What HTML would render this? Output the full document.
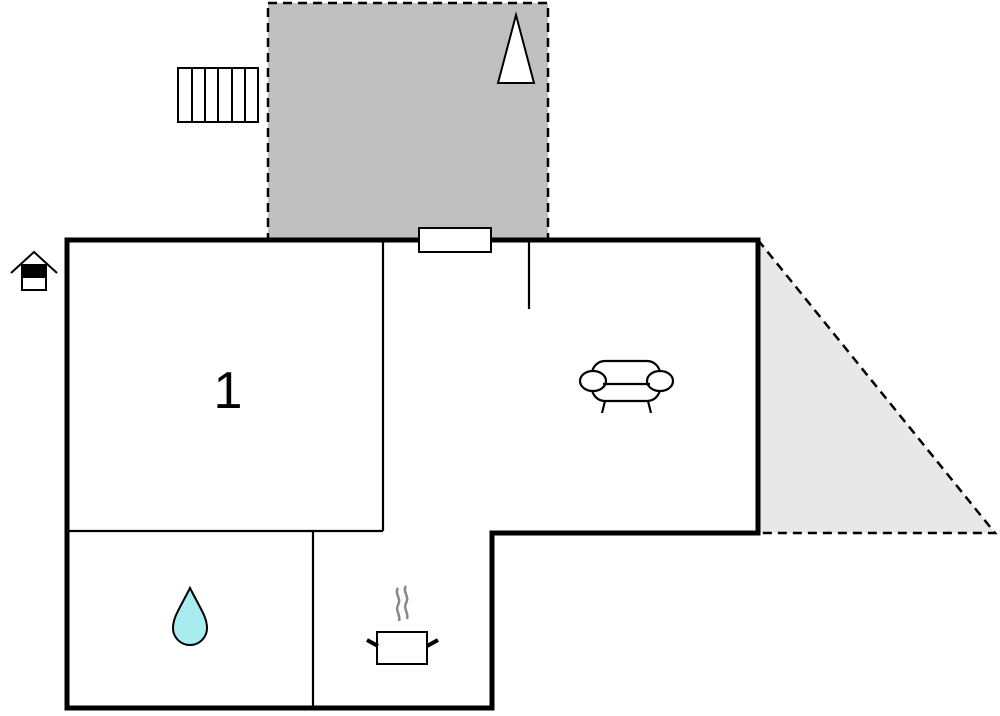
<!DOCTYPE html>
<html><head><style>body{margin:0;background:#fff}</style></head><body>
<svg width="1000" height="711" viewBox="0 0 1000 711" xmlns="http://www.w3.org/2000/svg">
<rect x="0" y="0" width="1000" height="711" fill="#fff"/>
<rect x="268" y="3" width="280" height="237" fill="#c0c0c0" stroke="#000" stroke-width="2.5" stroke-dasharray="9,6"/>
<polygon points="758,240 995,533 758,533" fill="#e8e8e8"/>
<polyline points="758,240 995,533 758,533" fill="none" stroke="#000" stroke-width="2.5" stroke-dasharray="9,6"/>
<rect x="178" y="68" width="80" height="54" fill="#fff" stroke="#000" stroke-width="2"/>
<g stroke="#000" stroke-width="2"><line x1="192" y1="68" x2="192" y2="122"/><line x1="205" y1="68" x2="205" y2="122"/><line x1="218" y1="68" x2="218" y2="122"/><line x1="232" y1="68" x2="232" y2="122"/><line x1="245" y1="68" x2="245" y2="122"/></g>
<polygon points="516,15 498,83 534,83" fill="#fff" stroke="#000" stroke-width="2"/>
<polygon points="67,240 758,240 758,533 492,533 492,708 67,708" fill="#fff" stroke="#000" stroke-width="5"/>
<g stroke="#000" stroke-width="2.2" fill="none">
<line x1="383" y1="240" x2="383" y2="531"/>
<line x1="67" y1="531" x2="383" y2="531"/>
<line x1="313" y1="531" x2="313" y2="708"/>
<line x1="529" y1="240" x2="529" y2="309"/>
</g>
<rect x="419" y="228" width="72" height="24" fill="#fff" stroke="#000" stroke-width="2"/>
<text x="228" y="408" font-family="Liberation Sans, sans-serif" font-size="52" text-anchor="middle">1</text>
<!-- house icon -->
<g stroke="#000" stroke-width="2" fill="none">
<polyline points="11,273 34,252 57,273"/>
<rect x="22" y="265" width="24" height="25" fill="#fff"/>
</g>
<rect x="22" y="265" width="24" height="13" fill="#000"/>
<!-- sofa -->
<g stroke="#000" stroke-width="2.2" fill="#fff">
<rect x="592" y="361" width="68" height="40" rx="13"/>
<ellipse cx="593" cy="381" rx="13" ry="10"/>
<ellipse cx="660" cy="381" rx="13" ry="10"/>
<line x1="603" y1="384" x2="650" y2="384"/>
<line x1="605" y1="401" x2="602" y2="413"/>
<line x1="648" y1="401" x2="651" y2="413"/>
</g>
<!-- drop -->
<path d="M190,588 C180,608 173,617 173,628 A17,17 0 0 0 207,628 C207,617 200,608 190,588 Z" fill="#a8ecf0" stroke="#000" stroke-width="2"/>
<!-- pot -->
<g fill="none">
<path d="M398,588 c-4,6 4,10 0,17 c-3,6 3,10 1,16" stroke="#888" stroke-width="2.5"/>
<path d="M406,586 c-4,6 4,10 0,17 c-3,6 3,10 1,16" stroke="#888" stroke-width="2.5"/>
<rect x="377" y="632" width="50" height="32" fill="#fff" stroke="#000" stroke-width="2"/>
<line x1="367" y1="640" x2="378" y2="646" stroke="#000" stroke-width="4"/>
<line x1="438" y1="640" x2="427" y2="646" stroke="#000" stroke-width="4"/>
</g>
</svg>
</body></html>
